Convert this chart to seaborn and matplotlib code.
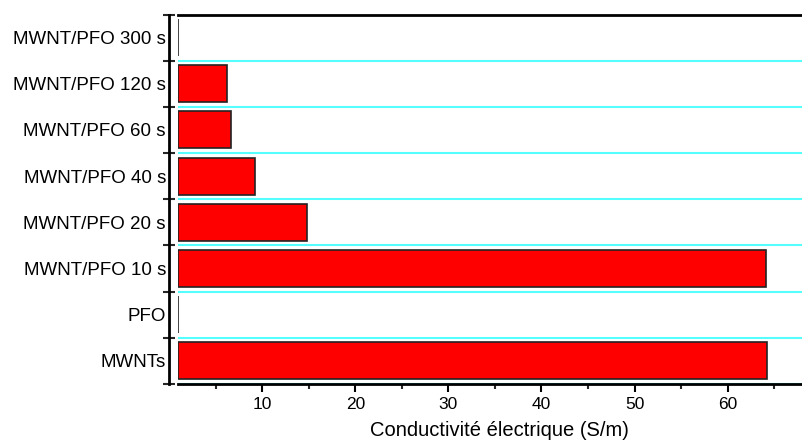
import numpy as np
import pandas as pd
import matplotlib
matplotlib.use("Agg")
import matplotlib.pyplot as plt
from matplotlib.ticker import MultipleLocator
import seaborn as sns

# Samples, listed top to bottom
samples = [
    "MWNT/PFO 300 s",
    "MWNT/PFO 120 s",
    "MWNT/PFO 60 s",
    "MWNT/PFO 40 s",
    "MWNT/PFO 20 s",
    "MWNT/PFO 10 s",
    "PFO",
    "MWNTs",
]
# Electrical conductivity (S/m)
conductivity = [0.0, 6.24, 6.6, 9.25, 14.77, 64.1, 0.0, 64.2]

x_ticks = [10, 20, 30, 40, 50, 60]
x_label = "Conductivité électrique (S/m)"

# Axis window; bars grow from the start of the x axis
X_START, X_END = 0.94, 68.0

df = pd.DataFrame({"sample": samples, "sigma": conductivity})
df["span"] = (df["sigma"] - X_START).clip(lower=0)

sns.set_style("ticks")
plt.rcParams["font.family"] = ["Liberation Sans", "DejaVu Sans"]

fig = plt.figure(figsize=(8.02, 4.41), dpi=100)
ax = fig.add_axes([178 / 802, 1 - 384 / 441, 1 - 178 / 802, (384 - 14.5) / 441])

sns.barplot(
    data=df, x="span", y="sample", order=samples, orient="h",
    color="#ff0000", saturation=1, width=0.8,
    edgecolor="#222222", linewidth=1.2, left=X_START, ax=ax,
)

ax.set_xlim(X_START, X_END)
ax.set_ylim(len(samples) - 0.5, -0.5)

# Spines: left axis pushed out, right side open
for side in ("top", "bottom", "left"):
    ax.spines[side].set_linewidth(2.0)
    ax.spines[side].set_color("black")
ax.spines["right"].set_visible(False)
ax.spines["left"].set_position(("outward", 6.5))

# x ticks
ax.set_xticks(x_ticks)
ax.set_xticklabels([str(t) for t in x_ticks])
ax.xaxis.set_minor_locator(MultipleLocator(5))
ax.tick_params(axis="x", which="major", direction="out", length=5.5, width=1.5,
               labelsize=12.5, pad=4, colors="black")
ax.tick_params(axis="x", which="minor", direction="out", length=3.5, width=1.5)

# y ticks: labels at category centres, tick marks and cyan rules at boundaries
ax.set_yticks(range(len(samples)))
ax.set_yticklabels(samples)
ax.set_yticks(np.arange(-0.5, len(samples), 1.0), minor=True)
ax.tick_params(axis="y", which="major", length=0, labelsize=13.5, pad=2.2,
               colors="black")
ax.tick_params(axis="y", which="minor", direction="inout", length=8, width=1.5)
ax.grid(False)
ax.grid(which="minor", axis="y", color="#55ffff", linewidth=1.5)
ax.set_axisbelow(True)

ax.set_ylabel("")
ax.set_xlabel(x_label, fontsize=14.5, color="black")
ax.xaxis.label.set_va("baseline")
ax.xaxis.set_label_coords((499.5 - 178) / (802 - 178), (5 - 57) / 369.5)

fig.savefig("out.png", dpi=100)
